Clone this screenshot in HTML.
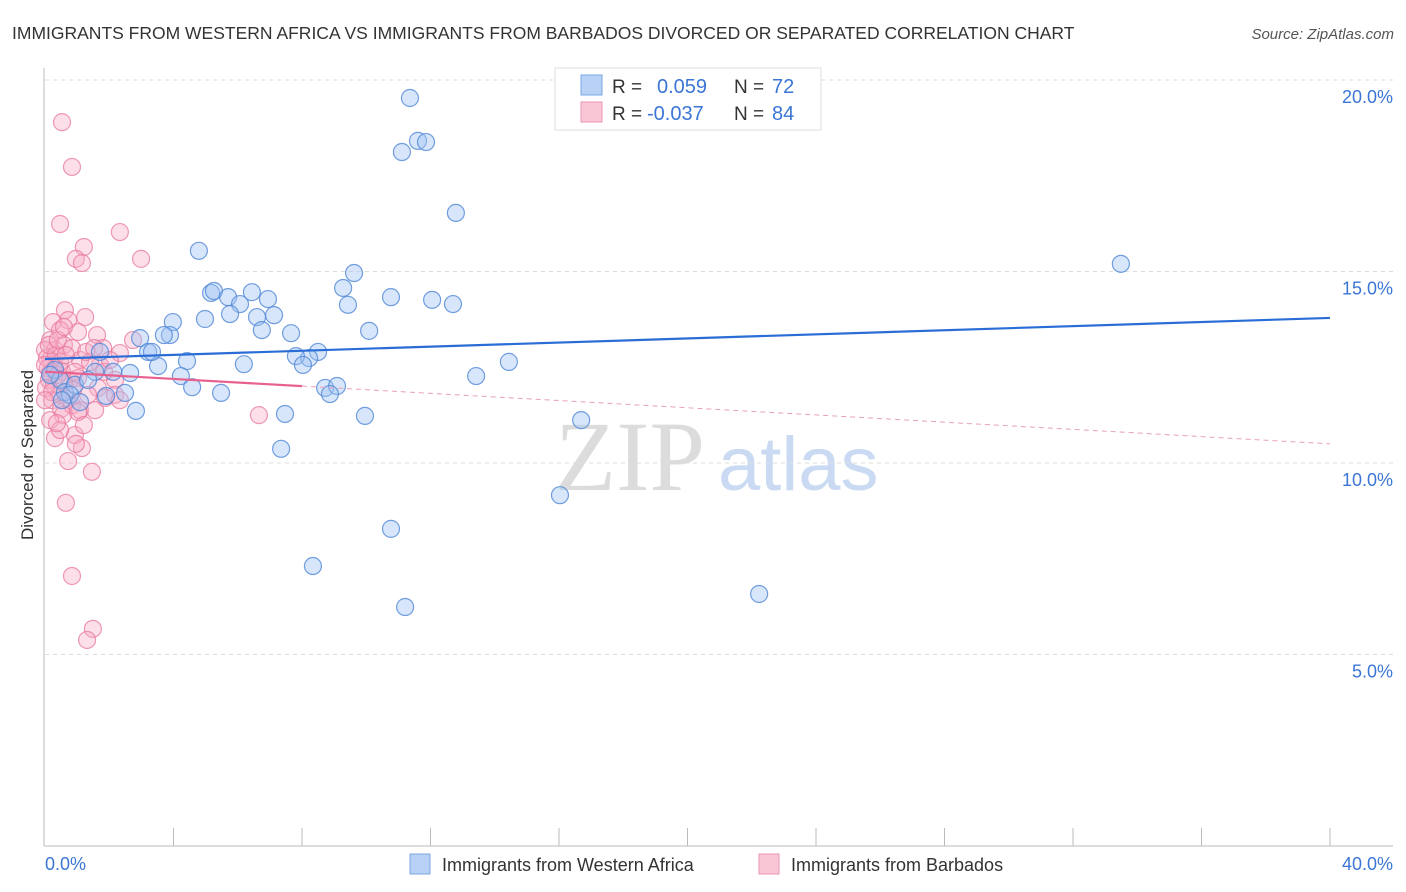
<!DOCTYPE html>
<html><head><meta charset="utf-8"><style>
body{margin:0;background:#fff;font-family:"Liberation Sans",sans-serif}
svg{display:block}
</style></head><body>
<svg id="chart" width="1406" height="892">
<text x="12" y="39" font-size="17.5" fill="#333">IMMIGRANTS FROM WESTERN AFRICA VS IMMIGRANTS FROM BARBADOS DIVORCED OR SEPARATED CORRELATION CHART</text>
<text x="1394" y="39" font-size="15" fill="#555" font-style="italic" text-anchor="end">Source: ZipAtlas.com</text>
<g>
<text x="555" y="490" font-family="Liberation Serif,serif" font-size="100" fill="#dcdcdc">ZIP</text>
<text x="718" y="490" font-size="76" fill="#c9daf2">atlas</text>
</g>
<g id="grid"></g>
<line x1="44" y1="68" x2="44" y2="846" stroke="#bbb"/>
<line x1="44" y1="846" x2="1393" y2="846" stroke="#bbb"/>
<g id="xticks"></g>
<text transform="translate(33,455) rotate(-90)" text-anchor="middle" font-size="17" fill="#333">Divorced or Separated</text>
<g id="points"></g>
<g id="lines"></g>
<g>
<rect x="555" y="68" width="266" height="62" fill="#fff" stroke="#ddd"/>
<rect x="581" y="75" width="21" height="20" fill="#b8d1f5" stroke="#7aa6e6"/>
<text x="612" y="93" font-size="19" fill="#333">R =</text>
<text x="657" y="93" font-size="20" fill="#3b76d6">0.059</text>
<text x="734" y="93" font-size="19" fill="#333">N =</text>
<text x="772" y="93" font-size="20" fill="#3b76d6">72</text>
<rect x="581" y="102" width="21" height="20" fill="#f9c6d6" stroke="#eb95b0"/>
<text x="612" y="120" font-size="19" fill="#333">R =</text>
<text x="647" y="120" font-size="20" fill="#3b76d6">-0.037</text>
<text x="734" y="120" font-size="19" fill="#333">N =</text>
<text x="772" y="120" font-size="20" fill="#3b76d6">84</text>
</g>
<g>
<rect x="410" y="854" width="20" height="20" fill="#b8d1f5" stroke="#7aa6e6"/>
<text x="442" y="871" font-size="18" fill="#333">Immigrants from Western Africa</text>
<rect x="759" y="854" width="20" height="20" fill="#f9c6d6" stroke="#eb95b0"/>
<text x="791" y="871" font-size="18" fill="#333">Immigrants from Barbados</text>
</g>
</svg>
<script>
const yTicks=[5,10,15,20];
const yTickLabels=["5.0%","10.0%","15.0%","20.0%"];
const xEndLabels=["0.0%","40.0%"];
const blueX=[11.36,11.11,11.61,11.86,12.79,33.49,4.79,9.62,9.28,10.77,12.05,12.70,9.43,5.17,5.26,5.70,6.44,6.94,6.07,5.76,4.98,6.60,7.13,6.75,7.66,3.98,3.89,3.70,2.96,10.09,8.50,8.22,7.81,8.03,6.19,4.42,3.52,3.21,3.33,1.71,2.65,2.12,4.23,4.58,5.48,2.49,13.42,14.44,8.72,9.09,8.87,1.90,2.83,7.47,9.96,16.69,7.35,16.03,10.77,8.34,11.21,22.23,0.31,0.47,0.62,0.93,0.78,0.53,0.16,1.56,1.34,1.09];
const blueY=[19.53,18.12,18.41,18.38,16.53,15.20,15.54,14.96,14.57,14.33,14.26,14.15,14.13,14.44,14.49,14.33,14.46,14.28,14.15,13.89,13.76,13.81,13.86,13.47,13.39,13.68,13.34,13.34,13.26,13.45,12.90,12.74,12.79,12.56,12.58,12.66,12.53,12.90,12.90,12.90,12.35,12.38,12.27,11.98,11.83,11.83,12.27,12.64,11.96,12.01,11.80,11.75,11.36,11.28,11.23,11.12,10.37,9.16,8.28,7.31,6.24,6.58,12.43,12.17,11.85,12.04,11.78,11.64,12.30,12.38,12.17,11.59];
const pinkX=[0.53,0.84,0.47,2.33,1.21,2.99,0.96,1.15,0.62,0.25,1.25,0.72,0.47,1.62,1.03,0.16,0.31,0.59,0.84,2.33,2.74,1.71,1.09,1.40,0.16,0.31,0.53,0.12,0.28,0.78,1.03,2.18,1.65,1.87,1.34,0.68,0.44,0.22,0.50,0.84,1.09,1.56,0.56,0.16,0.93,0.31,0.47,1.15,0.96,0.72,1.46,0.65,0.84,1.49,1.31,6.66,2.18,1.81,0,0.06,0.09,0.16,0.03,0.22,0.40,0.59,1.28,0.34,0.47,0,0.65,0.12,0.87,1.03,0.37,1.21,0,0.40,0.59,1.53,1.84,2.02,2.33,0.93];
const pinkY=[18.90,17.73,16.24,16.03,15.64,15.33,15.33,15.22,13.99,13.68,13.81,13.73,13.47,13.34,13.42,13.21,12.95,13.08,13.00,12.87,13.21,12.56,12.69,12.64,12.69,12.48,12.38,12.17,12.04,12.17,12.22,12.17,11.96,11.70,11.78,11.70,11.78,11.64,11.41,11.51,11.38,11.38,11.25,11.12,10.73,10.65,10.86,10.39,10.50,10.05,9.77,8.96,7.05,5.67,5.38,11.25,11.78,13.00,12.95,12.74,12.48,12.35,11.96,11.85,12.30,12.11,12.90,12.82,12.64,12.56,12.82,13.08,11.91,11.33,11.04,10.99,11.64,13.21,13.55,13.00,12.38,12.69,11.64,12.38];

const NS="http://www.w3.org/2000/svg";
const X0=45,X1=1330;
function sx(v){return X0+v*(X1-X0)/40;}
function sy(v){return 846-v*38.3;}
function mk(tag,attrs,parent){const e=document.createElementNS(NS,tag);for(const k in attrs)e.setAttribute(k,attrs[k]);parent.appendChild(e);return e;}

const grid=document.getElementById('grid');
yTicks.forEach((t,i)=>{
  const l=mk('line',{x1:45,x2:1393,y1:sy(t),y2:sy(t),stroke:'#ddd','stroke-dasharray':'4,4'},grid);
  
  
  const tx=mk('text',{x:1393,y:sy(t)+23,'text-anchor':'end','font-size':18,fill:'#3b76d6'},grid);
  tx.textContent=yTickLabels[i];
  
  
});
const xt=document.getElementById('xticks');
for(let i=1;i<=10;i++){
  const l=mk('line',{x1:sx(i*4),x2:sx(i*4),y1:828,y2:846,stroke:'#bbb'},xt);
  
  
}
const xl0=mk('text',{x:45,y:870,'font-size':18,fill:'#3b76d6'},xt);xl0.textContent=xEndLabels[0];


const xl1=mk('text',{x:1393,y:870,'text-anchor':'end','font-size':18,fill:'#3b76d6'},xt);xl1.textContent=xEndLabels[1];



const pts=document.getElementById('points');
function drawPts(xs,ys,fill,stroke,name){
  xs.forEach((x,i)=>{
    const c=mk('circle',{cx:sx(x),cy:sy(ys[i]),r:8.5,fill:fill,stroke:stroke,'stroke-width':1.2},pts);
    
    
  });
}
drawPts(pinkX,pinkY,'rgba(246,172,196,0.38)','rgba(232,120,158,0.75)','point-barbados');
drawPts(blueX,blueY,'rgba(160,196,242,0.42)','rgba(80,135,215,0.8)','point-western-africa');

function fit(xs,ys){const n=xs.length;let mx=0,my=0;for(let i=0;i<n;i++){mx+=xs[i];my+=ys[i];}mx/=n;my/=n;let sxy=0,sxx=0;for(let i=0;i<n;i++){sxy+=(xs[i]-mx)*(ys[i]-my);sxx+=(xs[i]-mx)**2;}const b=sxy/sxx;return [my-b*mx,b];}
const lg=document.getElementById('lines');
const [ba,bb]=fit(blueX,blueY);
let l=mk('line',{x1:sx(0),y1:sy(ba),x2:sx(40),y2:sy(ba+bb*40),stroke:'#2a6dd6','stroke-width':2.2},lg);


const [pa,pb]=fit(pinkX,pinkY);
l=mk('line',{x1:sx(0),y1:sy(pa),x2:sx(8),y2:sy(pa+pb*8),stroke:'#e8608e','stroke-width':2.2},lg);


l=mk('line',{x1:sx(8),y1:sy(pa+pb*8),x2:sx(40),y2:sy(pa+pb*40),stroke:'#e8a0b8','stroke-width':1,'stroke-dasharray':'5,4'},lg);


</script>
</body></html>
